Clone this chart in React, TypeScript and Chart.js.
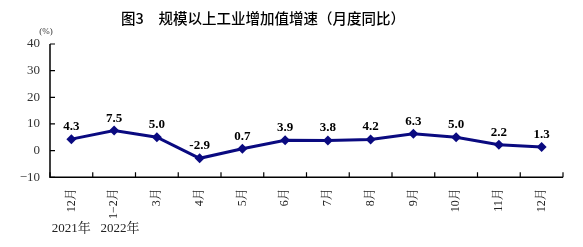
import React, { useEffect, useRef } from "react";
import { Chart, registerables } from "chart.js";

Chart.register(...registerables);

const categories = ["12月", "1−2月", "3月", "4月", "5月", "6月", "7月", "8月", "9月", "10月", "11月", "12月"];
const growth = [4.3, 7.5, 5.0, -2.9, 0.7, 3.9, 3.8, 4.2, 6.3, 5.0, 2.2, 1.3];
const yearLabels = ["2021年", "2022年"];
const titleText = "图3　规模以上工业增加值增速（月度同比）";
const unitText = "(%)";

const SERIF = "Liberation Serif, Noto Serif CJK SC, serif";
const CJK = "Noto Sans CJK SC, sans-serif";

const decorPlugin = {
  id: "decor",
  afterDraw(chart: any) {
    const ctx = chart.ctx;
    const { left, right, top, bottom } = chart.chartArea;
    const xs = chart.scales.x;
    const ys = chart.scales.y;
    ctx.save();
    ctx.strokeStyle = "#000";
    ctx.lineWidth = 1.5;
    ctx.beginPath();
    ctx.moveTo(left, top);
    ctx.lineTo(left, bottom);
    ctx.lineTo(right, bottom);
    ctx.stroke();
    ctx.lineWidth = 1.2;
    ctx.beginPath();
    ys.ticks.forEach((t: any) => {
      const y = ys.getPixelForValue(t.value);
      ctx.moveTo(left, y);
      ctx.lineTo(left + 5, y);
    });
    for (let i = 0; i <= categories.length; i++) {
      const x = xs.getPixelForValue(i - 0.5);
      ctx.moveTo(x, bottom);
      ctx.lineTo(x, bottom - 5);
    }
    ctx.stroke();
    const meta = chart.getDatasetMeta(0);
    ctx.fillStyle = "#000";
    ctx.font = "bold 13px " + SERIF;
    ctx.textAlign = "center";
    ctx.textBaseline = "alphabetic";
    meta.data.forEach((pt: any, i: number) => {
      ctx.fillText(growth[i].toFixed(1), pt.x, pt.y - 9);
    });
    ctx.font = "9px " + SERIF;
    ctx.fillStyle = "#333";
    ctx.fillText(unitText, left - 4, top - 10);
    ctx.font = "500 14.5px " + CJK;
    ctx.fillStyle = "#000";
    ctx.textBaseline = "middle";
    ctx.fillText(titleText, 263, 18);
    ctx.font = "13px " + SERIF;
    ctx.fillStyle = "#222";
    yearLabels.forEach((label, i) => {
      ctx.fillText(label, xs.getPixelForValue(i) + (i === 1 ? 6 : 0), 229);
    });
    ctx.restore();
  },
};

export default function App() {
  const ref = useRef<HTMLCanvasElement>(null);
  useEffect(() => {
    document.body.style.margin = "0";
    const chart = new Chart(ref.current!, {
      type: "line",
      data: {
        labels: categories,
        datasets: [
          {
            data: growth,
            borderColor: "#0A0A80",
            backgroundColor: "#0A0A80",
            borderWidth: 3,
            pointStyle: "rectRot",
            pointRadius: 5,
            pointBorderWidth: 0,
            tension: 0,
          },
        ],
      },
      options: {
        responsive: false,
        animation: false,
        layout: { padding: { left: 0, right: 20, top: 44, bottom: 17 } },
        plugins: { legend: { display: false }, tooltip: { enabled: false }, title: { display: false } },
        scales: {
          x: {
            offset: true,
            border: { display: false },
            grid: { display: false, drawTicks: false },
            ticks: {
              minRotation: 90,
              maxRotation: 90,
              padding: 11,
              color: "#222",
              font: { family: SERIF, size: 12 },
              autoSkip: false,
            },
          },
          y: {
            min: -10,
            max: 40,
            border: { display: false },
            grid: { display: false, drawTicks: false },
            afterFit(scale: any) {
              scale.width = 50;
            },
            ticks: {
              stepSize: 10,
              padding: 10,
              color: "#333",
              font: { family: SERIF, size: 13 },
              callback: (v: any) => (v < 0 ? "−" + Math.abs(v) : String(v)),
            },
          },
        },
      },
      plugins: [decorPlugin],
    });
    return () => chart.destroy();
  }, []);
  return <canvas ref={ref} width={583} height={247} style={{ display: "block" }} />;
}
